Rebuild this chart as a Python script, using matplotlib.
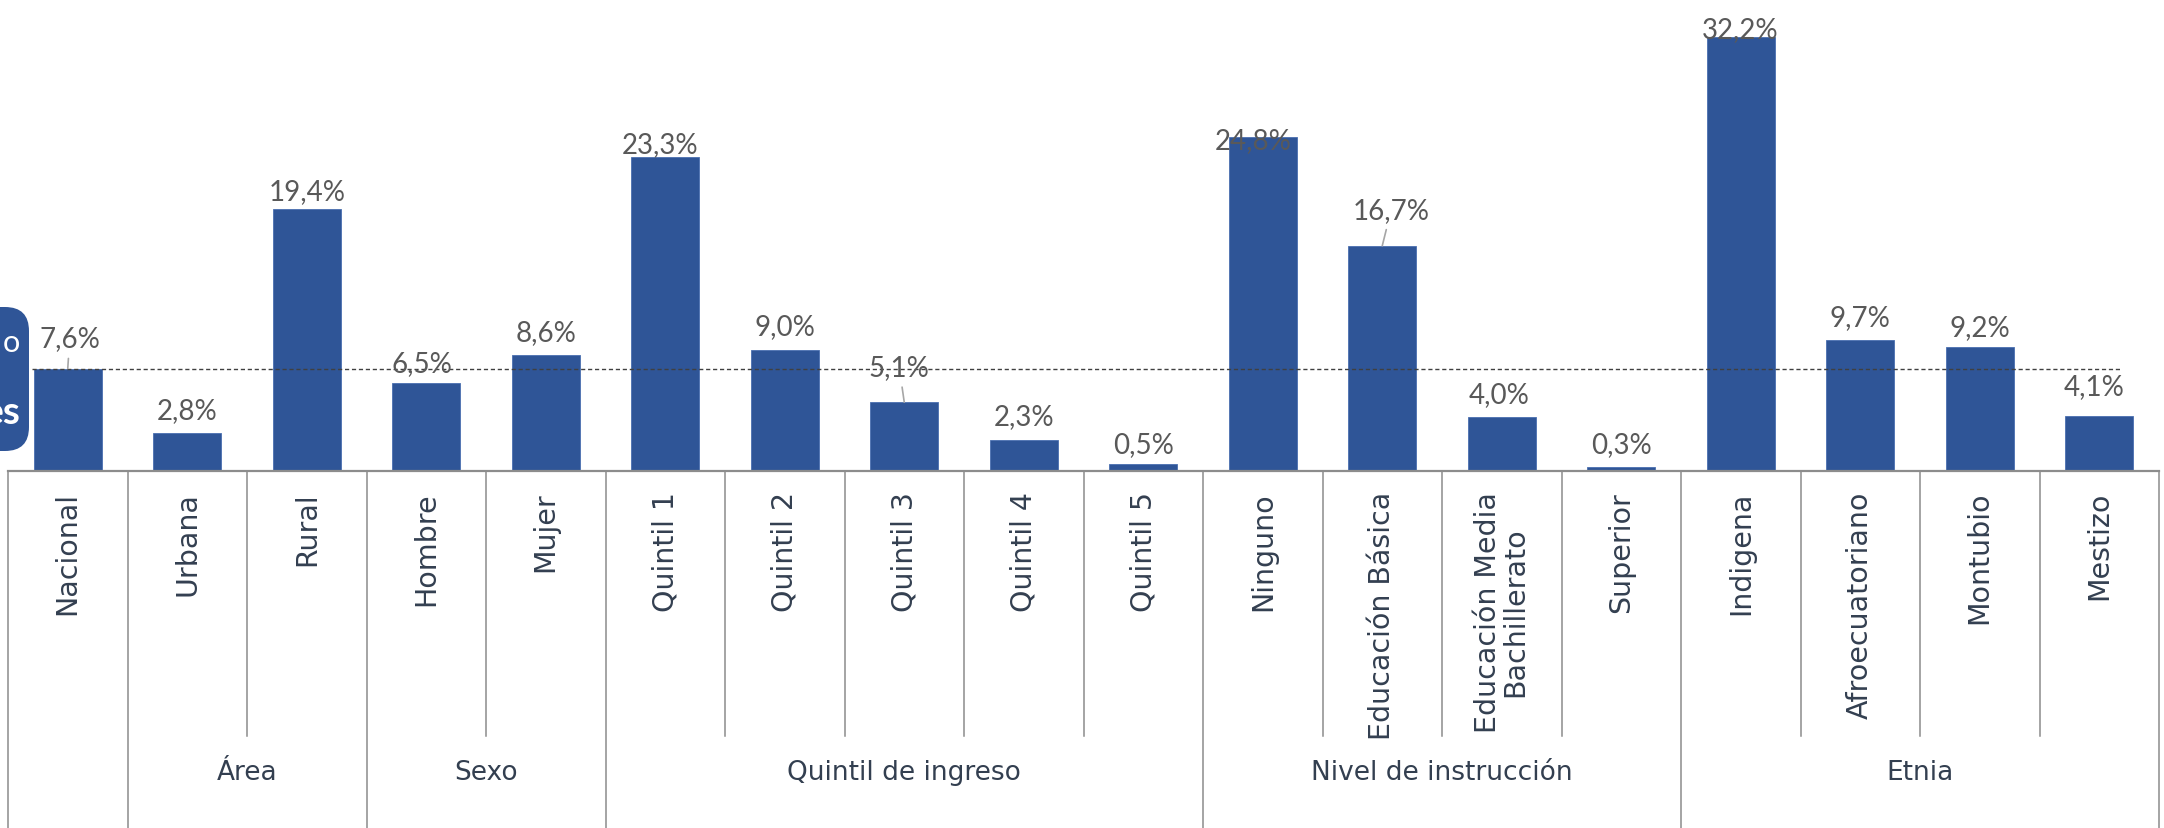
import matplotlib.pyplot as plt
from matplotlib.patches import FancyBboxPatch

plt.rcParams['font.family'] = ['Lato', 'DejaVu Sans']

categorias = ["Nacional", "Urbana", "Rural", "Hombre", "Mujer",
              "Quintil 1", "Quintil 2", "Quintil 3", "Quintil 4", "Quintil 5",
              "Ninguno", "Educación Básica", "Educación Media\nBachillerato", "Superior",
              "Indigena", "Afroecuatoriano", "Montubio", "Mestizo"]
valores = [7.6, 2.8, 19.4, 6.5, 8.6, 23.3, 9.0, 5.1, 2.3, 0.5,
           24.8, 16.7, 4.0, 0.3, 32.2, 9.7, 9.2, 4.1]
grupos = ["", "Área", "Sexo", "Quintil de ingreso", "Nivel de instrucción", "Etnia"]
grupo_tam = [1, 2, 2, 5, 4, 4]

# label placement tweaks (pixels): dx, baseline above bar top, leader line
lab_dx = [2, 0, 0, -4, 0, -5, 0, -5, 0, 0, -10, 9, -3, 0, -1, 0, 0, -5]
lab_dy = [22, 15, 10, 12, 15, 5, 16, 27, 16, 12, -11, 28, 15, 15, 0, 15, 12, 22]
leader = [0, 7, 11]

azul = "#2F5597"
gris_txt = "#595959"
cat_txt = "#333F50"
gris_lin = "#8C8C8C"
cat_font = ["DejaVu Sans"]

W, H = 2164, 829
fig = plt.figure(figsize=(W / 100, H / 100), dpi=100)
ax = fig.add_axes([8 / W, 1 - 472 / H, 2151 / W, 472 / H])

n = len(categorias)
x = list(range(n))
ax.bar(x, valores, width=0.57, color=azul, edgecolor="#4A6FB0", linewidth=0.6, zorder=2)
ax.set_xlim(-0.5, n - 0.5)
ax.set_ylim(0, 35)
ax.axis("off")

# national reference line
ax.axhline(valores[0], xmin=0.011, xmax=0.983, color="#404040", lw=1.0,
           ls=(0, (3, 2)), zorder=3)

for i, v in enumerate(valores):
    txt = f"{v:.1f}%".replace(".", ",")
    kw = {}
    if i in leader:
        kw["arrowprops"] = dict(arrowstyle="-", color="#A6A6A6", lw=1.2,
                                shrinkA=3, shrinkB=0)
    ax.annotate(txt, xy=(i, v), xytext=(lab_dx[i], lab_dy[i]),
                textcoords="offset pixels", ha="center", va="baseline",
                fontsize=20, color=gris_txt, zorder=4, **kw)

# multi-level category axis
tr = ax.get_xaxis_transform()
px = 1 / 472
ax.plot([-0.5, n - 0.5], [0, 0], transform=tr, color=gris_lin, lw=1.6,
        clip_on=False, zorder=5)
for i, c in enumerate(categorias):
    ax.text(i, -20 * px, c, transform=tr, rotation=90, ha="center", va="top",
            multialignment="center", fontsize=20.5, color=cat_txt,
            linespacing=0.95, family=cat_font)

start = 0
bordes = [-0.5]
for g, k in zip(grupos, grupo_tam):
    for j in range(1, k):
        b = start + j - 0.5
        ax.plot([b, b], [0, -265 * px], transform=tr, color=gris_lin, lw=1.1,
                clip_on=False)
    if g:
        ax.text(start + (k - 1) / 2, -301 * px, g, transform=tr, ha="center",
                va="center", fontsize=19, color=cat_txt, family=cat_font)
    start += k
    bordes.append(start - 0.5)
for b in bordes:
    ax.plot([b, b], [0, -360 * px], transform=tr, color=gris_lin, lw=1.1,
            clip_on=False)

# cropped callout box at the left edge (drawn in pixel space)
over = fig.add_axes([0, 0, 1, 1], zorder=-1)
over.set_xlim(0, W)
over.set_ylim(H, 0)
over.axis("off")
over.add_patch(FancyBboxPatch((-60, 308), 89, 144,
                              boxstyle="round,pad=0,rounding_size=24",
                              facecolor=azul, edgecolor="none"))
over.text(20, 343, "o", ha="right", va="center", fontsize=22, color="white")
over.text(21, 412, "es", ha="right", va="center", fontsize=28,
          color="white", fontweight="bold")

fig.savefig("out.png", dpi=100)
